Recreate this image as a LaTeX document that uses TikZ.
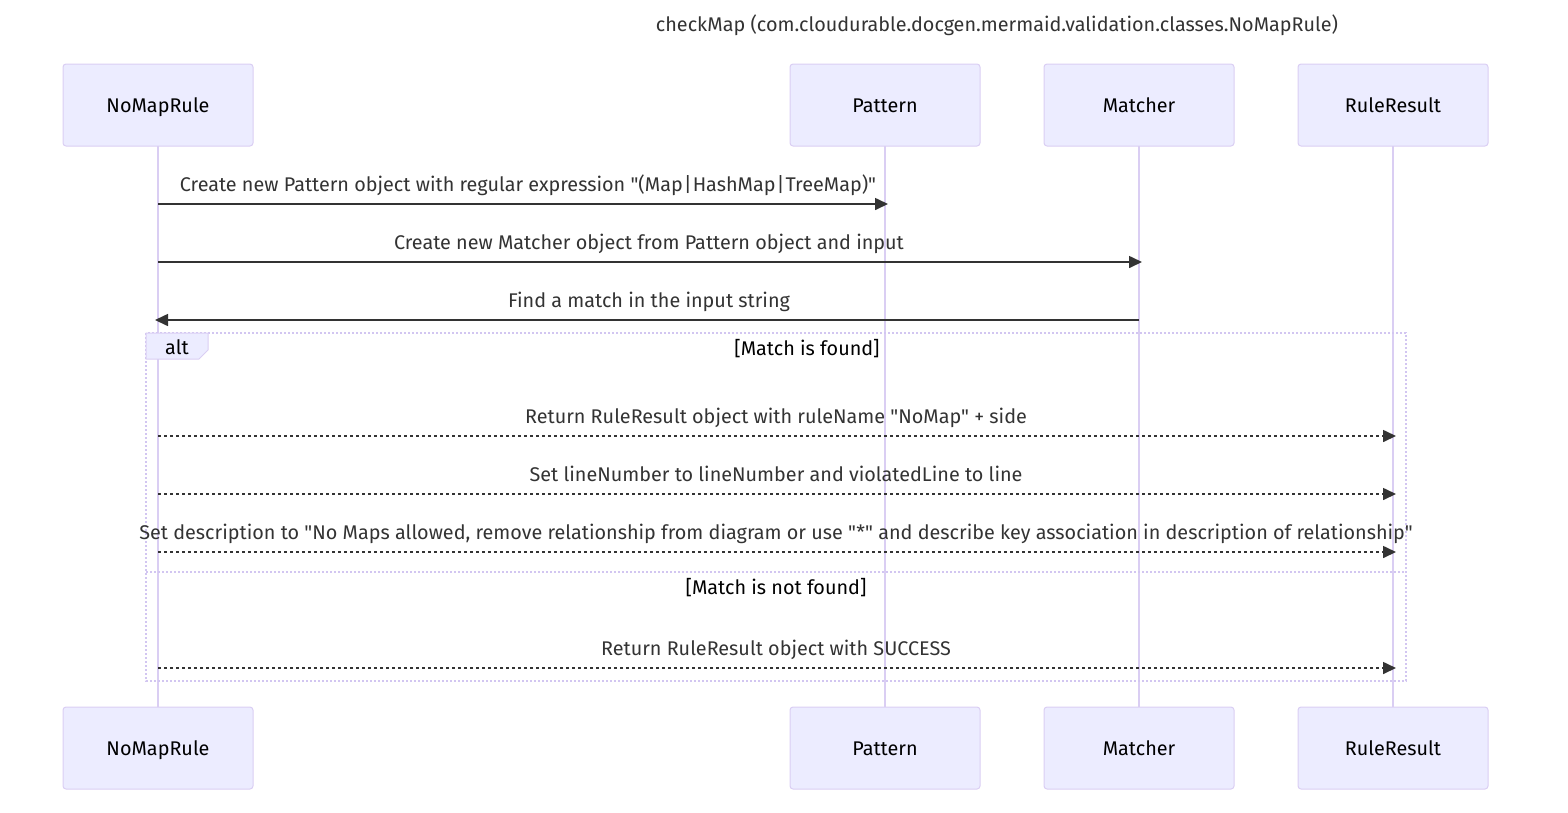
\documentclass[tikz,border=0pt]{standalone}
\usepackage{fontspec}
\setmainfont{Fira Sans}[Ligatures=TeXOff]
\definecolor{actfill}{HTML}{ECECFF}
\definecolor{actline}{HTML}{DACEF3}
\definecolor{loopc}{HTML}{D2C6F1}
\definecolor{msg}{HTML}{333333}
\newcommand\fs{\fontsize{19.8}{23}\selectfont}
\newcommand\vb{\kern1pt|\kern1pt}
\tikzset{
  x=1pt, y=-1pt,
  actor/.style={draw=actline, fill=actfill, line width=1pt, rounded corners=3pt,
    minimum width=190pt, minimum height=82pt, inner sep=0pt, font=\fs, text=black,
    text height=14pt, text depth=0pt},
  life/.style={draw=actline, line width=2pt},
  sync/.style={draw=msg, line width=1.6pt, -{Triangle[length=13pt,width=12pt]}},
  reply/.style={sync, dash pattern=on 3pt off 3pt},
  msgtext/.style={font=\fs, text=msg, inner sep=0pt, anchor=base},
  looptext/.style={font=\fs, text=black, inner sep=0pt, anchor=base},
  loopline/.style={draw=loopc, line width=2pt, dash pattern=on 2pt off 2pt},
}
\usetikzlibrary{arrows.meta}
\begin{document}
\begin{tikzpicture}
\useasboundingbox (0,0) rectangle (1568,812);
% lifelines
\foreach \n/\x in {a/158,b/885,c/1139,d/1393}{
  \coordinate (\n top) at (\x,146);
  \coordinate (\n bot) at (\x,707);
  \draw[life] (\n top) -- (\n bot);
}
% actors
\node[actor] (A1) at (158,105) {NoMapRule};
\node[actor] (B1) at (885,105) {Pattern};
\node[actor] (C1) at (1139,105) {Matcher};
\node[actor] (D1) at (1393,105) {RuleResult};
\node[actor] (A2) at (158,748) {NoMapRule};
\node[actor] (B2) at (885,748) {Pattern};
\node[actor] (C2) at (1139,748) {Matcher};
\node[actor] (D2) at (1393,748) {RuleResult};
% title
\node[font=\fs, text=msg, inner sep=0pt, anchor=base] (title) at (997,31) {checkMap (com.cloudurable.docgen.mermaid.validation.classes.NoMapRule)};
% alt box
\draw[loopline] (146,333) rectangle (1406,681);
\draw[loopline] (146,572) -- (1406,572);
\draw[draw=actline, fill=actfill, line width=1pt] (146,333) -- (208,333) -- (208,350) -- (199,359) -- (146,359) -- cycle;
\node[looptext] (alt) at (177,354) {alt};
\node[looptext] (s1) at (807,355) {[Match is found]};
\node[looptext] (s2) at (776,594) {[Match is not found]};
% message coordinates
\foreach \i/\y in {1/204,2/262,3/320,4/436,5/494,6/552,7/668}{
  \coordinate (a\i) at (158,\y);
  \coordinate (b\i) at (885,\y);
  \coordinate (c\i) at (1139,\y);
  \coordinate (d\i) at (1393,\y);
}
\draw[sync] (a1) -- ([xshift=3pt]b1);
\node[msgtext] (m1) at (528,191) {Create new Pattern object with regular expression "(Map\vb HashMap\vb TreeMap)"};
\draw[sync] (a2) -- ([xshift=3pt]c2);
\node[msgtext] (m2) at (649,249) {Create new Matcher object from Pattern object and input};
\draw[sync] (c3) -- ([xshift=-3pt]a3);
\node[msgtext] (m3) at (649,307) {Find a match in the input string};
\draw[reply] (a4) -- ([xshift=3pt]d4);
\node[msgtext] (m4) at (776,423) {Return RuleResult object with ruleName "NoMap" + side};
\draw[reply] (a5) -- ([xshift=3pt]d5);
\node[msgtext] (m5) at (776,481) {Set lineNumber to lineNumber and violatedLine to line};
\draw[reply] (a6) -- ([xshift=3pt]d6);
\node[msgtext] (m6) at (776,539) {Set description to "No Maps allowed, remove relationship from diagram or use "*" and describe key association in description of relationship"};
\draw[reply] (a7) -- ([xshift=3pt]d7);
\node[msgtext] (m7) at (776,655) {Return RuleResult object with SUCCESS};
\end{tikzpicture}
\end{document}
